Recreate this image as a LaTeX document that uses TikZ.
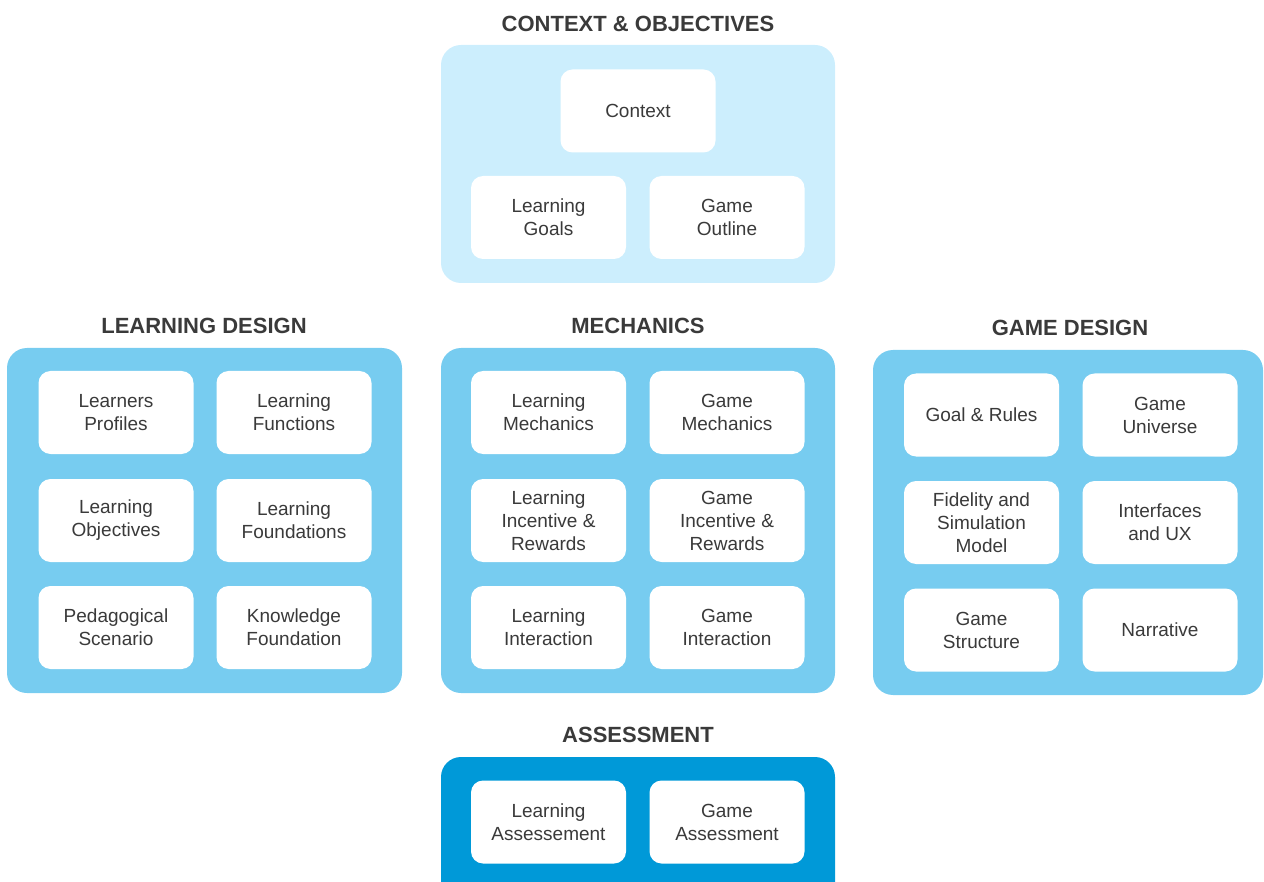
\documentclass[tikz,border=0pt]{standalone}
\usepackage{fontspec}
\setmainfont{Liberation Sans}
\definecolor{txt}{HTML}{3A3A3A}
\definecolor{ctxfill}{HTML}{CCEEFD}
\definecolor{midfill}{HTML}{77CCF0}
\definecolor{assfill}{HTML}{0099D8}
\tikzset{
  outerbox/.style={rectangle, rounded corners=20pt, draw=none, inner sep=0pt, outer sep=0pt},
  itembox/.style={rectangle, rounded corners=12pt, fill=white, draw=none, inner sep=0pt, outer sep=0pt,
    minimum width=155pt, minimum height=83pt, align=center, text=txt,
    font=\fontsize{19}{23}\selectfont},
  grouptitle/.style={text=txt, font=\fontsize{22}{26}\selectfont\bfseries, inner sep=0pt},
}
\begin{document}
\begin{tikzpicture}[x=1pt,y=-1pt]
\clip (0,0) rectangle (1264,882);
\useasboundingbox (0,0) rectangle (1264,882);
% group containers
\node[outerbox, fill=ctxfill, minimum width=394pt, minimum height=238pt] (gctx) at (638,164) {};
\node[outerbox, fill=midfill, minimum width=395pt, minimum height=345pt] (gld) at (204.5,520.5) {};
\node[outerbox, fill=midfill, minimum width=394pt, minimum height=345pt] (gmech) at (638,520.5) {};
\node[outerbox, fill=midfill, minimum width=390pt, minimum height=345pt] (ggd) at (1068,522.5) {};
\node[outerbox, fill=assfill, minimum width=394pt, minimum height=150pt] (gass) at (638,832) {};
% titles
\node[grouptitle] (tctx) at (638,24) {CONTEXT \& OBJECTIVES};
\node[grouptitle] (tld) at (204,326) {LEARNING DESIGN};
\node[grouptitle] (tmech) at (638,326) {MECHANICS};
\node[grouptitle] (tgd) at (1070,328) {GAME DESIGN};
\node[grouptitle] (tass) at (638,735) {ASSESSMENT};
% context & objectives
\node[itembox] (context) at (638,111) {Context};
\node[itembox] (lgoals) at (548.5,217.5) {Learning\\Goals};
\node[itembox] (goutline) at (727,217.5) {Game\\Outline};
% learning design
\node[itembox] (lprof) at (116,412.5) {Learners\\Profiles};
\node[itembox] (lfunc) at (294,412.5) {Learning\\Functions};
\node[itembox] (lobj) at (116,520.5) {Learning\\Objectives};
\node[itembox] (lfound) at (294,520.5) {Learning\\Foundations};
\node[itembox] (pscen) at (116,627.5) {Pedagogical\\Scenario};
\node[itembox] (kfound) at (294,627.5) {Knowledge\\Foundation};
% mechanics
\node[itembox] (lmech) at (548.5,412.5) {Learning\\Mechanics};
\node[itembox] (gmechs) at (727,412.5) {Game\\Mechanics};
\node[itembox] (linc) at (548.5,520.5) {Learning\\Incentive \&\\Rewards};
\node[itembox] (ginc) at (727,520.5) {Game\\Incentive \&\\Rewards};
\node[itembox] (linter) at (548.5,627.5) {Learning\\Interaction};
\node[itembox] (ginter) at (727,627.5) {Game\\Interaction};
% game design
\node[itembox] (goal) at (981.5,415) {Goal \& Rules};
\node[itembox] (guni) at (1160,415) {Game\\Universe};
\node[itembox] (fid) at (981.5,522.5) {Fidelity and\\Simulation\\Model};
\node[itembox] (iux) at (1160,522.5) {Interfaces\\and UX};
\node[itembox] (gstruct) at (981.5,630) {Game\\Structure};
\node[itembox] (narr) at (1160,630) {Narrative};
% assessment
\node[itembox] (lass) at (548.5,822) {Learning\\Assessement};
\node[itembox] (gass2) at (727,822) {Game\\Assessment};
\end{tikzpicture}
\end{document}
